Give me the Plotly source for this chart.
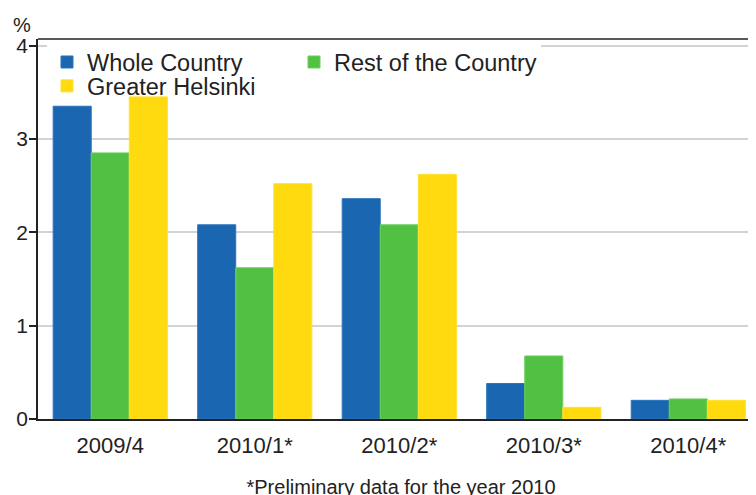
import plotly.graph_objects as go

categories = ["2009/4", "2010/1*", "2010/2*", "2010/3*", "2010/4*"]
whole_country = [3.35, 2.08, 2.36, 0.38, 0.20]
rest_of_country = [2.85, 1.62, 2.08, 0.675, 0.215]
greater_helsinki = [3.45, 2.52, 2.62, 0.125, 0.20]

series = [
    ("Whole Country", whole_country, "#1a66b0", "#2a74bb", "legend"),
    ("Rest of the Country", rest_of_country, "#52c143", "#6ccf5c", "legend"),
    ("Greater Helsinki", greater_helsinki, "#ffda0e", "#ffe030", "legend2"),
]

FONT = "Liberation Sans, Arial, sans-serif"
TXT = "#222222"

fig = go.Figure()
for name, vals, col, edge, lg in series:
    fig.add_trace(go.Bar(
        x=categories, y=vals, name=name, legend=lg,
        marker=dict(color=col, line=dict(color=edge, width=1)),
    ))

legend_common = dict(
    orientation="h", xanchor="left", yanchor="top",
    entrywidth=202, itemwidth=30, borderwidth=0,
    font=dict(family=FONT, size=23.5, color=TXT),
    traceorder="normal",
)

fig.update_layout(
    width=756, height=495,
    margin=dict(l=30, r=0, t=31, b=84),
    paper_bgcolor="white", plot_bgcolor="white",
    barmode="group", bargap=0.21, bargroupgap=0,
    font=dict(family=FONT, size=21, color=TXT),
    showlegend=True,
    legend=dict(x=0.0124, y=0.9968, bgcolor="white", **legend_common),
    legend2=dict(x=0.0124, y=0.934, bgcolor="rgba(0,0,0,0)", **legend_common),
    xaxis=dict(
        range=[-0.5, 4.524], showline=True, linecolor="#222222", linewidth=1.5,
        ticks="", showgrid=False, ticklabelstandoff=6, automargin=False,
        tickfont=dict(family=FONT, size=22, color=TXT),
        title=dict(text="*Preliminary data for the year 2010",
                   font=dict(family=FONT, size=20, color=TXT), standoff=23),
    ),
    yaxis=dict(
        range=[0, 4.07], tickvals=[0, 1, 2, 3, 4], automargin=False,
        showline=True, linecolor="#222222", linewidth=1.5,
        ticks="outside", ticklen=7, tickcolor="#222222", tickwidth=1.5,
        ticklabelstandoff=-3,
        showgrid=True, gridcolor="#d3d3d3", gridwidth=1.5,
        zeroline=False,
        tickfont=dict(family=FONT, size=21, color=TXT),
    ),
    shapes=[dict(type="line", xref="paper", yref="paper", x0=0, x1=1, y0=1, y1=1,
                 line=dict(color="#222222", width=1.5), layer="above")],
    annotations=[dict(text="%", xref="paper", yref="paper", x=0, y=1,
                      xanchor="center", yanchor="bottom", yshift=1.5, xshift=-16.5,
                      showarrow=False, font=dict(family=FONT, size=20, color=TXT))],
)

fig.write_html("out.html")
